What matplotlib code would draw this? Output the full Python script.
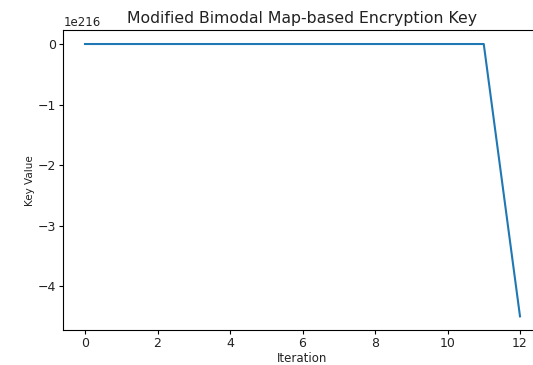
import numpy as np
import matplotlib.pyplot as plt

# iteration index and the key value at each step
iterations = list(range(13))
key_values = [0.0] * 12 + [-4.5e216]

W, H = 533, 365
fig = plt.figure(figsize=(W / 100, H / 100), dpi=100)

# axes box in pixels (left, top, right, bottom); the right edge runs past the canvas
left, top, right, bottom = 63.25, 30.4, 541.75, 330.0
ax = fig.add_axes([left / W, 1 - bottom / H, (right - left) / W, (bottom - top) / H])

ax.plot(iterations, key_values, color='#1f77b4', linewidth=1.5)

ax.set_title("Modified Bimodal Map-based Encryption Key", fontsize=11.3, pad=5,
             color='#222222')
ax.set_xlabel("Iteration", fontsize=8.5, labelpad=1, color='#222222')
ax.set_ylabel("Key Value", fontsize=7.5, labelpad=2, color='#222222')
ax.tick_params(labelsize=9, length=2.8, pad=2.5, labelcolor='#222222')
ax.yaxis.get_offset_text().set_fontsize(8.5)

fig.savefig("out.png", dpi=100)
